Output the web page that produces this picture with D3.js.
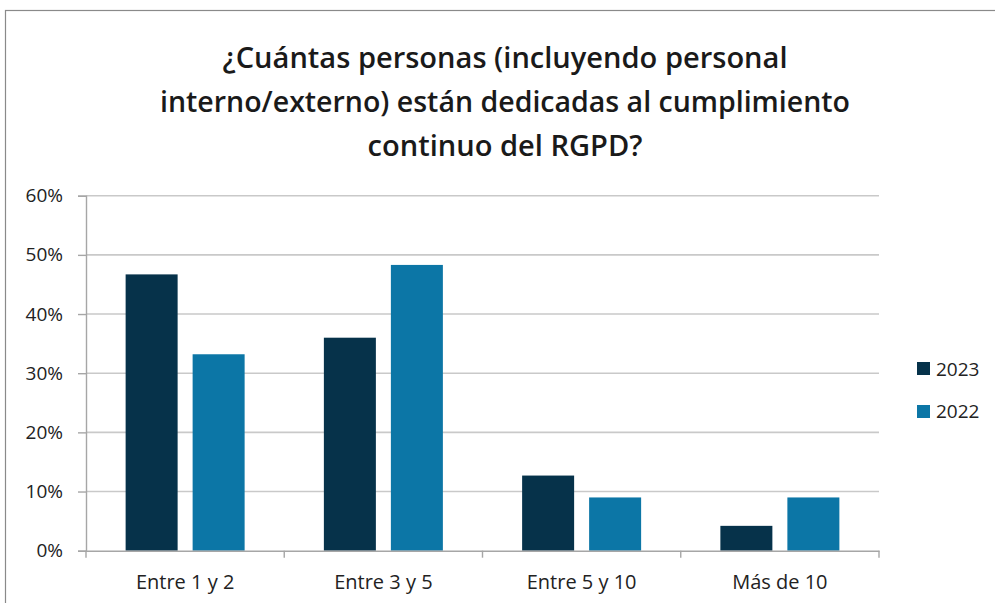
<!DOCTYPE html>
<html><head><meta charset="utf-8">
<script src="https://cdn.jsdelivr.net/npm/d3@7"></script>
<style>body{margin:0;background:#fff}svg{display:block}</style>
</head><body>
<svg id="c" width="995" height="603"></svg>
<script>
const categories = ["Entre 1 y 2", "Entre 3 y 5", "Entre 5 y 10", "Más de 10"];
const seriesNames = ["2023", "2022"];
const values2023 = [0.467, 0.360, 0.127, 0.042];
const values2022 = [0.332, 0.483, 0.090, 0.090];
const yTicks = [0, 0.1, 0.2, 0.3, 0.4, 0.5, 0.6];
const titleLines = ["¿Cuántas personas (incluyendo personal", "interno/externo) están dedicadas al cumplimiento", "continuo del RGPD?"];
const colors = ["#06324a", "#0c76a6"];

const svg = d3.select("#c");
const font = "'Open Sans', 'Noto Sans', sans-serif";

// frame
svg.append("rect").attr("x", 5.5).attr("y", 10.5).attr("width", 1000).attr("height", 600)
  .attr("fill", "#fff").attr("stroke", "#8a8a8a").attr("stroke-width", 1.2);

// title
const tl = [{y: 68, w: 565}, {y: 112, w: 690}, {y: 156, w: 275}];
svg.append("g").selectAll("text").data(titleLines).join("text")
  .attr("x", 505).attr("y", (d, i) => tl[i].y)
  .attr("text-anchor", "middle")
  .attr("font-family", font).attr("font-size", 28).attr("font-weight", 600)
  .attr("fill", "#1a1a1a")
  .attr("textLength", (d, i) => tl[i].w).attr("lengthAdjust", "spacingAndGlyphs")
  .text(d => d);

const L = 86, R = 879, T = 195.7, B = 550.7;
const x = d3.scaleBand().domain(categories).range([L, R]);
const y = d3.scaleLinear().domain([0, 0.6]).range([B, T]);

// gridlines
svg.append("g").selectAll("line").data(yTicks.slice(1)).join("line")
  .attr("x1", L).attr("x2", R).attr("y1", d => y(d)).attr("y2", d => y(d))
  .attr("stroke", "#c9c9c9").attr("stroke-width", 1.6);

// y axis
const yAxis = svg.append("g").attr("transform", `translate(${L},0)`)
  .call(d3.axisLeft(y).tickValues(yTicks).tickFormat(d3.format(".0%")).tickSize(8).tickPadding(15));
yAxis.select(".domain").attr("stroke", "#a6a6a6").attr("stroke-width", 1.4);
yAxis.selectAll(".tick line").attr("stroke", "#a6a6a6").attr("stroke-width", 1.4);
yAxis.selectAll(".tick text").attr("font-family", font).attr("font-size", 19).attr("fill", "#222");

// bars
const bw = 52, gap = 15;
const series = [values2023, values2022];
series.forEach((vals, si) => {
  svg.append("g").selectAll("rect").data(vals).join("rect")
    .attr("x", (d, i) => x(categories[i]) + x.bandwidth() / 2 - (bw + gap / 2) + si * (bw + gap))
    .attr("y", d => y(d))
    .attr("width", bw)
    .attr("height", d => B - y(d))
    .attr("fill", colors[si]);
});

// x axis
const xAxis = svg.append("g").attr("transform", `translate(0,${B})`)
  .call(d3.axisBottom(x).tickSize(0).tickPadding(24));
xAxis.select(".domain").attr("stroke", "#a6a6a6").attr("stroke-width", 1.4);
xAxis.selectAll(".tick text").attr("font-family", font).attr("font-size", 20).attr("fill", "#222");
// category boundary ticks
const bounds = categories.map(c => x(c)).concat([R]);
svg.append("g").selectAll("line").data(bounds).join("line")
  .attr("x1", d => d).attr("x2", d => d).attr("y1", B).attr("y2", B + 7)
  .attr("stroke", "#a6a6a6").attr("stroke-width", 1.4);

// legend
const lg = svg.append("g");
seriesNames.forEach((s, i) => {
  lg.append("rect").attr("x", 917).attr("y", 362 + i * 43).attr("width", 13).attr("height", 13).attr("fill", colors[i]);
  lg.append("text").attr("x", 936).attr("y", 376 + i * 42)
    .attr("font-family", font).attr("font-size", 19).attr("fill", "#222").text(s);
});
</script>
</body></html>
